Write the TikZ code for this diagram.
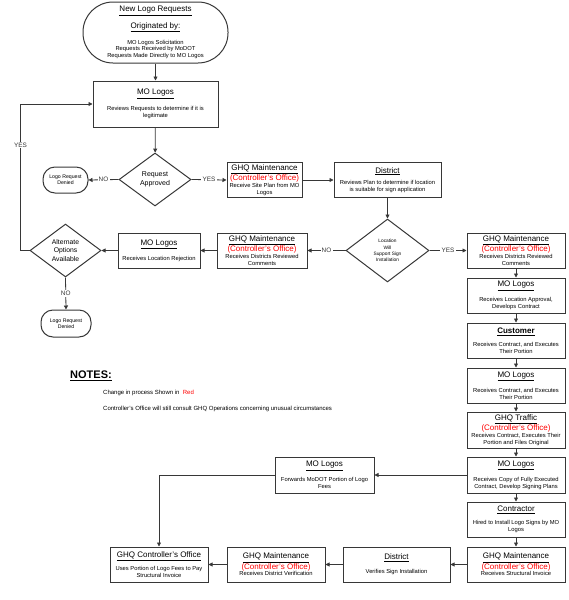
\documentclass[tikz,border=0pt]{standalone}
\usepackage{fontspec}
\setmainfont{Liberation Sans}
\definecolor{FrameColor}{RGB}{55,55,55}
\definecolor{ChangeColor}{RGB}{255,0,0}
\usetikzlibrary{arrows.meta}
\usetikzlibrary{shapes.geometric}
\usetikzlibrary{positioning}
\tikzstyle{arrow} = [FrameColor, line width=0.8pt, -{Triangle[length=4pt,width=4pt]}]
\tikzstyle{stepbox} = [draw=FrameColor, line width=1pt, rectangle, align=flush center, inner sep=1pt, minimum height=35pt]
\tikzstyle{terminal} = [stepbox, rounded corners=30pt]
\tikzstyle{denied} = [draw=FrameColor, line width=1pt, rectangle, rounded corners=12pt, align=center, inner sep=1pt, font=\fontsize{5.2}{6.2}\selectfont]
\tikzstyle{decision} = [draw=FrameColor, line width=1pt, diamond, align=center, inner sep=0pt]
\tikzstyle{answer} = [fill=white, inner sep=1.2pt, font=\fontsize{6.4}{7}\selectfont]
\newcommand{\boxtitle}[1]{{\fontsize{8}{9.5}\selectfont\underline{#1}\par}}
\newcommand{\ctrloffice}{{\fontsize{8}{9}\selectfont\color{ChangeColor}(Controller's Office)\par}}
\newcommand{\boxtext}[1]{{\fontsize{5.8}{6.8}\selectfont #1\par}}

\begin{document}
\begin{tikzpicture}[x=1pt, y=-1pt]
    \useasboundingbox (0,0) rectangle (568,600);

    % request and first review
    \node[terminal, text width=143pt, minimum height=61pt] (start) at (155.5,32.5) {\boxtitle{New Logo Requests}\vspace{7pt}\boxtitle{Originated by:}\vspace{7pt}\boxtext{MO Logos Solicitation\\Requests Received by MoDOT\\Requests Made Directly to MO Logos}};
    \node[stepbox, text width=123pt, minimum height=46pt] (review) at (155.5,104) {\boxtitle{MO Logos}\vspace{7pt}\boxtext{Reviews Requests to determine if it is\\legitimate}};
    \node[decision, minimum width=72pt, minimum height=53pt, font=\fontsize{7}{9}\selectfont] (approved) at (155,179.5) {Request\\Approved};
    \node[denied, minimum width=45pt, minimum height=26pt] (denied) at (65.5,180) {Logo Request\\Denied};

    % site plan
    \node[stepbox, text width=73pt] (siteplan) at (264.5,180) {\boxtitle{GHQ Maintenance}\ctrloffice\boxtext{Receive Site Plan from MO\\Logos}};
    \node[stepbox, text width=105pt] (district) at (387.5,180) {\boxtitle{District}\vspace{5pt}\boxtext{Reviews Plan to determine if location\\is suitable for sign application}};
    \node[decision, minimum width=83pt, minimum height=63pt, font=\fontsize{4.8}{6.2}\selectfont] (location) at (387.5,250.5) {Location\\Will\\Support Sign\\Installation};

    % rejection
    \node[stepbox, text width=88pt] (rejectcomments) at (262,250.5) {\boxtitle{GHQ Maintenance}\ctrloffice\boxtext{Receives Districts Reviewed\\Comments}};
    \node[stepbox, text width=80pt] (rejection) at (159,250.5) {\boxtitle{MO Logos}\vspace{6pt}\boxtext{Receives Location Rejection}};
    \node[decision, minimum width=71pt, minimum height=53pt, font=\fontsize{6.8}{8.2}\selectfont] (alternate) at (65.5,250.5) {Alternate\\Options\\Available};
    \node[denied, minimum width=50pt, minimum height=27pt] (denied2) at (66,323.5) {Logo Request\\Denied};

    % approval column
    \node[stepbox, text width=96pt] (approvecomments) at (516,250.5) {\boxtitle{GHQ Maintenance}\ctrloffice\boxtext{Receives Districts Reviewed\\Comments}};
    \node[stepbox, text width=96pt] (contract) at (516,295.5) {\boxtitle{MO Logos}\vspace{6pt}\boxtext{Receives Location Approval,\\Develops Contract}};
    \node[stepbox, text width=96pt] (customer) at (516,340.5) {{\bfseries\boxtitle{Customer}}\vspace{6pt}\boxtext{Receives Contract, and Executes\\Their Portion}};
    \node[stepbox, text width=96pt] (executes) at (516,385.5) {\boxtitle{MO Logos}\vspace{6pt}\boxtext{Receives Contract, and Executes\\Their Portion}};
    \node[stepbox, text width=96pt, minimum height=36pt] (traffic) at (516,430) {\boxtitle{GHQ Traffic}\ctrloffice\boxtext{Receives Contract, Executes Their\\Portion and Files Original}};
    \node[stepbox, text width=96pt, minimum height=36pt] (signing) at (516,475) {\boxtitle{MO Logos}\vspace{6pt}\boxtext{Receives Copy of Fully Executed\\Contract, Develop Signing Plans}};
    \node[stepbox, text width=96pt] (contractor) at (516,519.5) {\boxtitle{Contractor}\vspace{6pt}\boxtext{Hired to Install Logo Signs by MO\\Logos}};
    \node[stepbox, text width=96pt] (invoice) at (516,564.5) {\boxtitle{GHQ Maintenance}\ctrloffice\boxtext{Receives Structural Invoice}};

    % bottom row
    \node[stepbox, text width=97pt, minimum height=36pt] (fees) at (324.5,475) {\boxtitle{MO Logos}\vspace{6pt}\boxtext{Forwards MoDOT Portion of Logo\\Fees}};
    \node[stepbox, text width=105pt] (verifies) at (396.5,564.5) {\boxtitle{District}\vspace{7pt}\boxtext{Verifies Sign Installation}};
    \node[stepbox, text width=96pt] (verification) at (276,564.5) {\boxtitle{GHQ Maintenance}\ctrloffice\boxtext{Receives District Verification}};
    \node[stepbox, text width=96pt] (payment) at (159,564.5) {\boxtitle{GHQ Controller's Office}\vspace{5pt}\boxtext{Uses Portion of Logo Fees to Pay\\Structural Invoice}};

    % notes
    \node[anchor=west, inner sep=0pt, font=\fontsize{11}{12}\selectfont\bfseries] (notes) at (70,375.5) {\underline{NOTES:}};
    \node[anchor=west, inner sep=0pt, font=\fontsize{6}{7}\selectfont] (note1) at (103,393) {Change in process Shown in \ {\color{ChangeColor}Red}};
    \node[anchor=west, inner sep=0pt, font=\fontsize{6}{7}\selectfont] (note2) at (103,409) {Controller's Office will still consult GHQ Operations concerning unusual circumstances};

    \draw[arrow] (start) -- (review);
    \draw[arrow] (review) -- (approved);
    \draw[arrow] (approved.west) -- node[answer]{NO} (denied.east);
    \draw[arrow] (approved.east) -- node[answer]{YES} (siteplan.west);
    \draw[arrow] (siteplan) -- (district);
    \draw[arrow] (district) -- (location);
    \draw[arrow] (location.west) -- node[answer]{NO} (rejectcomments.east);
    \draw[arrow] (location.east) -- node[answer]{YES} (approvecomments.west);
    \draw[arrow] (rejectcomments) -- (rejection);
    \draw[arrow] (rejection) -- (alternate.east);
    \draw[arrow] (alternate.west) -- ++(-9,0) |- node[answer, pos=0.36]{YES} (review.west);
    \draw[arrow] (alternate.south) -- node[answer]{NO} (denied2.north);
    \foreach \a/\b in {approvecomments/contract, contract/customer, customer/executes, executes/traffic, traffic/signing, signing/contractor, contractor/invoice} {
        \draw[arrow] (\a) -- (\b);
    }
    \draw[arrow] (signing) -- (fees);
    \draw[arrow] (fees.west) -| (payment.north);
    \draw[arrow] (invoice) -- (verifies);
    \draw[arrow] (verifies) -- (verification);
    \draw[arrow] (verification) -- (payment);
\end{tikzpicture}
\end{document}
